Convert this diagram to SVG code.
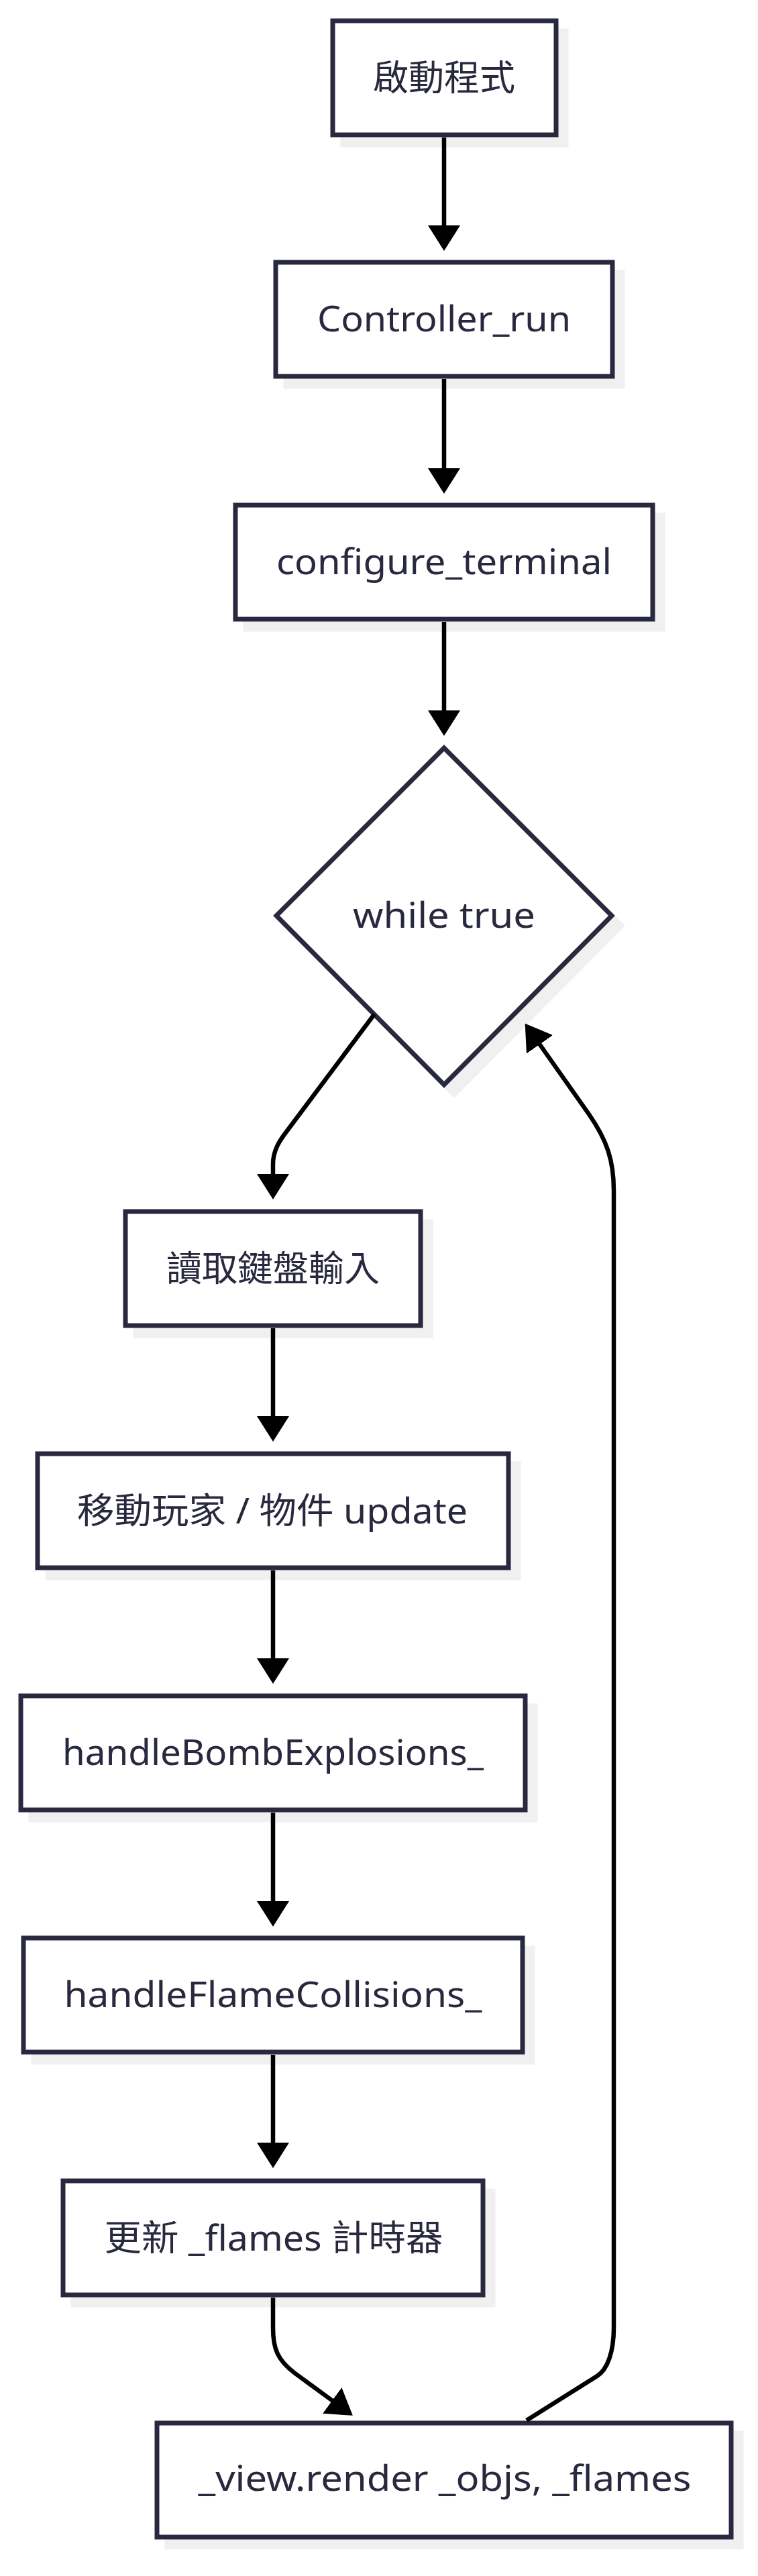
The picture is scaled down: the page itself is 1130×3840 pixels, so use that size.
<svg xmlns="http://www.w3.org/2000/svg" width="1130" height="3840" viewBox="0 0 1130 3840">
<style>
.shadow{fill:#f0f0f0;stroke:none}
.dshadow{fill:#f0f0f0;stroke:#f0f0f0;stroke-width:7;stroke-linejoin:miter}
.box{fill:#ffffff;stroke:#28283e;stroke-width:7}
.dia{fill:#ffffff;stroke:#28283e;stroke-width:7;stroke-linejoin:miter}
.lbl{font-family:"Noto Sans","Noto Sans CJK TC",sans-serif;font-size:52px;fill:#28283e;text-anchor:middle}
.cjk{font-family:"Noto Sans","Noto Sans CJK TC",sans-serif;font-size:53px;fill:#28283e;text-anchor:middle}
.edge{fill:none;stroke:#000000;stroke-width:6.5}
</style>
<defs>
<marker id="arr" markerUnits="userSpaceOnUse" markerWidth="38" markerHeight="48" viewBox="0 0 38 48" refX="1" refY="24" orient="auto">
<path d="M0,0 L38,24 L0,48 z" fill="#000000"/>
</marker>
</defs>
<rect x="0" y="0" width="1130" height="3840" fill="#ffffff"/>
<g id="node-start">
<rect class="shadow" x="507.5" y="42.5" width="340" height="177"/>
<rect class="box" x="496" y="31" width="333" height="170"/>
<text class="cjk" x="662" y="135">啟動程式</text>
</g>
<g id="node-controller-run">
<rect class="shadow" x="422.5" y="402.5" width="509" height="177"/>
<rect class="box" x="411" y="391" width="502" height="170"/>
<text class="lbl" x="662" y="494" textLength="378" lengthAdjust="spacingAndGlyphs">Controller_run</text>
</g>
<g id="node-configure-terminal">
<rect class="shadow" x="362.5" y="764.5" width="629" height="177"/>
<rect class="box" x="351" y="753" width="622" height="170"/>
<text class="lbl" x="662" y="856" textLength="500" lengthAdjust="spacingAndGlyphs">configure_terminal</text>
</g>
<g id="node-while-true">
<polygon class="dshadow" points="677,1130 927,1380 677,1632 427,1380"/>
<polygon class="dia" points="662,1115 912,1365 662,1617 412,1365"/>
<text class="lbl" x="662" y="1383" textLength="272" lengthAdjust="spacingAndGlyphs">while true</text>
</g>
<g id="node-read-input">
<rect class="shadow" x="198.5" y="1817.5" width="447" height="177"/>
<rect class="box" x="187" y="1806" width="440" height="170"/>
<text class="cjk" x="407" y="1910">讀取鍵盤輸入</text>
</g>
<g id="node-move-update">
<rect class="shadow" x="67.5" y="2178.5" width="709" height="177"/>
<rect class="box" x="56" y="2167" width="702" height="170"/>
<text class="cjk" x="406" y="2271" textLength="582" lengthAdjust="spacingAndGlyphs">移動玩家 / 物件 update</text>
</g>
<g id="node-bomb-explosions">
<rect class="shadow" x="42.5" y="2539.5" width="759" height="177"/>
<rect class="box" x="31" y="2528" width="752" height="170"/>
<text class="lbl" x="407" y="2631" textLength="628" lengthAdjust="spacingAndGlyphs">handleBombExplosions_</text>
</g>
<g id="node-flame-collisions">
<rect class="shadow" x="46.5" y="2900.5" width="751" height="177"/>
<rect class="box" x="35" y="2889" width="744" height="170"/>
<text class="lbl" x="407" y="2992" textLength="623" lengthAdjust="spacingAndGlyphs">handleFlameCollisions_</text>
</g>
<g id="node-update-flames">
<rect class="shadow" x="105.5" y="3262.5" width="633" height="177"/>
<rect class="box" x="94" y="3251" width="626" height="170"/>
<text class="cjk" x="408" y="3355" textLength="505" lengthAdjust="spacingAndGlyphs">更新 _flames 計時器</text>
</g>
<g id="node-render">
<rect class="shadow" x="245.5" y="3623.5" width="863" height="177"/>
<rect class="box" x="234" y="3612" width="856" height="170"/>
<text class="lbl" x="663" y="3713" textLength="735" lengthAdjust="spacingAndGlyphs">_view.render _objs, _flames</text>
</g>
<g id="connectors">
<path class="edge" marker-end="url(#arr)" d="M662,205 L662,337"/>
<path class="edge" marker-end="url(#arr)" d="M662,565 L662,699"/>
<path class="edge" marker-end="url(#arr)" d="M662,927 L662,1060"/>
<path class="edge" marker-end="url(#arr)" d="M558,1512 L427,1687 C417,1700 407,1715 407,1735 L407,1751"/>
<path class="edge" marker-end="url(#arr)" d="M407,1980 L407,2112"/>
<path class="edge" marker-end="url(#arr)" d="M407,2341 L407,2473"/>
<path class="edge" marker-end="url(#arr)" d="M407,2702 L407,2835"/>
<path class="edge" marker-end="url(#arr)" d="M407,3063 L407,3195"/>
<path class="edge" marker-end="url(#arr)" d="M407,3425 L407,3470 C407,3500 413,3518 440,3538 L496,3579"/>
<path class="edge" marker-end="url(#arr)" d="M785,3608 L890,3542 C906,3532 915,3505 915,3470 L915,1775 C915,1730 905,1700 878,1661 L804,1556"/>
</g>
</svg>
